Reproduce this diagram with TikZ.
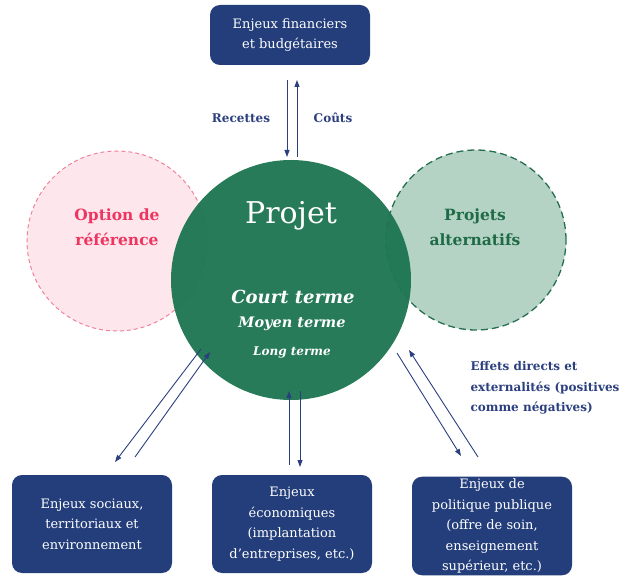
\documentclass[tikz,border=0pt]{standalone}
\usepackage{fontspec}
\setmainfont{DejaVu Serif}
\usetikzlibrary{arrows.meta}
\definecolor{enjeuBlue}{RGB}{35,62,122}
\definecolor{flecheBlue}{RGB}{43,63,126}
\definecolor{projetGreen}{RGB}{30,118,82}
\definecolor{altFill}{RGB}{180,211,196}
\definecolor{altDraw}{RGB}{38,110,78}
\definecolor{altText}{RGB}{31,107,70}
\definecolor{refFill}{RGB}{253,230,236}
\definecolor{refDraw}{RGB}{240,130,155}
\definecolor{refText}{RGB}{238,53,96}
\begin{document}
\begin{tikzpicture}[x=1pt, y=-1pt,
  enjeubox/.style={draw=none, fill=enjeuBlue, rounded corners=10pt, text=white, align=center,
    minimum width=160pt, inner sep=2pt, font=\fontsize{13}{20.5}\selectfont},
  sidecircle/.style={circle, line width=1pt, minimum size=180pt, inner sep=0pt},
  fleche/.style={draw=flecheBlue, line width=0.9pt, -{Triangle[length=7pt,width=5pt]}},
  label/.style={text=flecheBlue, font=\bfseries\fontsize{12}{20.5}\selectfont}]
\useasboundingbox (0,0) rectangle (633,583);
% Side circles
\node[sidecircle, fill=refFill, draw=refDraw, dash pattern=on 4pt off 3pt] (ref) at (117,241) {};
\node[sidecircle, fill=altFill, draw=altDraw, line width=1.3pt, dash pattern=on 7pt off 4pt] (alt) at (476,240) {};
% Main circle
\node[circle, fill=projetGreen, fill opacity=0.96, minimum size=240pt, inner sep=0pt] (proj) at (291,280) {};
% Circle texts
\node[text=refText, align=center, font=\bfseries\fontsize{15.5}{25}\selectfont] (refTxt) at (117,227) {Option de\\référence};
\node[text=altText, align=center, font=\bfseries\fontsize{15.5}{25}\selectfont] (altTxt) at (475,227) {Projets\\alternatifs};
\node[text=white, font=\fontsize{30}{30}\selectfont] (projTxt) at (291,216) {Projet};
\node[text=white, font=\bfseries\itshape\fontsize{18}{18}\selectfont] (court) at (293,297) {Court terme};
\node[text=white, font=\bfseries\itshape\fontsize{14.5}{15}\selectfont] (moyen) at (292,324) {Moyen terme};
\node[text=white, font=\bfseries\itshape\fontsize{12}{12}\selectfont] (long) at (292,352) {Long terme};
% Boxes
\node[enjeubox, minimum height=60pt] (fin) at (290,35) {Enjeux financiers\\et budgétaires};
\node[enjeubox, minimum height=98pt] (soc) at (92,524) {Enjeux sociaux,\\territoriaux et\\environnement};
\node[enjeubox, minimum height=98pt] (eco) at (292,524) {Enjeux\\économiques\\(implantation\\d'entreprises, etc.)};
\node[enjeubox, minimum height=95pt] (pol) at (492,526) {Enjeux de\\politique publique\\(offre de soin,\\enseignement\\supérieur, etc.)};
% Arrow ends
\coordinate (finA) at (287,80);  \coordinate (projA) at (287,157);
\coordinate (projB) at (297,157); \coordinate (finB) at (297,80);
\coordinate (projC) at (201,349); \coordinate (socC) at (115,462);
\coordinate (socD) at (135,457); \coordinate (projD) at (210,352);
\coordinate (ecoE) at (289,465); \coordinate (projE) at (289,391);
\coordinate (projF) at (300,391); \coordinate (ecoF) at (300,467);
\coordinate (projG) at (397,353); \coordinate (polG) at (461,456);
\coordinate (polH) at (478,457); \coordinate (projH) at (409,350);
% Arrows
\draw[fleche] (finA) -- (projA);
\draw[fleche] (projB) -- (finB);
\draw[fleche] (projC) -- (socC);
\draw[fleche] (socD) -- (projD);
\draw[fleche] (ecoE) -- (projE);
\draw[fleche] (projF) -- (ecoF);
\draw[fleche] (projG) -- (polG);
\draw[fleche] (polH) -- (projH);
% Labels
\node[label] (rec) at (241,118) {Recettes};
\node[label] (cout) at (333,118) {Coûts};
\node[label, anchor=west, align=left] (effets) at (467,388) {Effets directs et\\externalités (positives\\comme négatives)};
\end{tikzpicture}
\end{document}
